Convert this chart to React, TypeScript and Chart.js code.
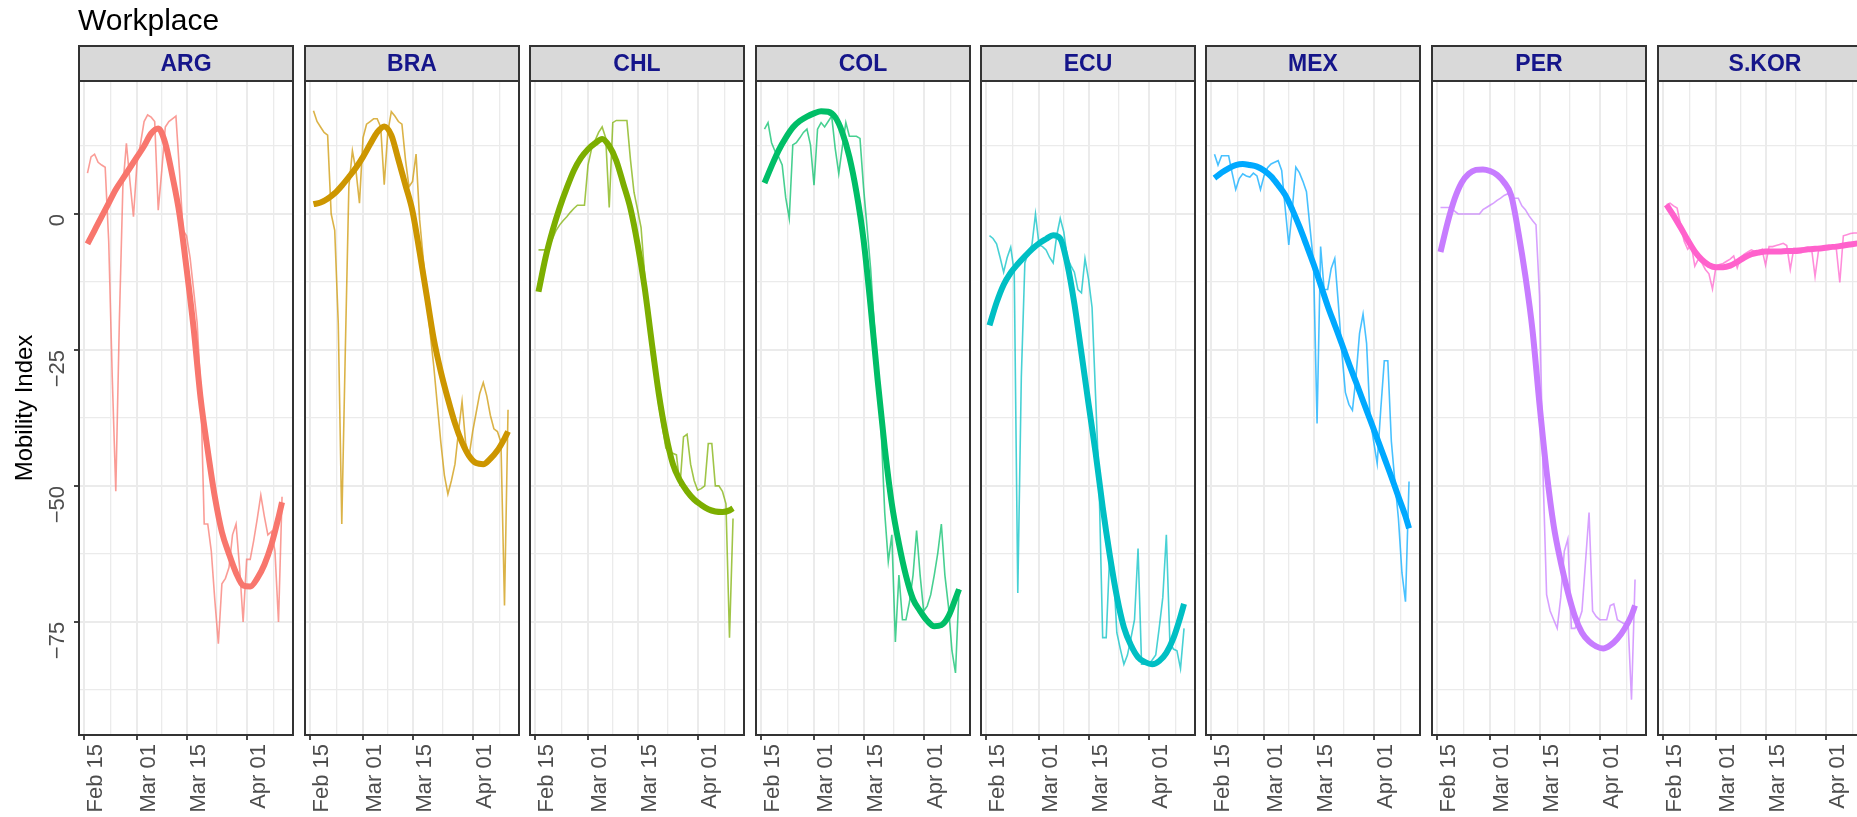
import { useEffect, useRef } from 'react';
import { Chart, registerables } from 'chart.js';

Chart.register(...registerables);
Chart.defaults.font.family = "'Liberation Sans', Arial, sans-serif";

// ---- data -------------------------------------------------------------
// Day offsets from Feb 15 (2020): 1 = Feb 16 ... 56 = Apr 11
const DAYS = Array.from({ length: 56 }, (_, i) => i + 1);
// Days at which the fitted trend is sampled
const FIT_DAYS = [1, 3, 5, 7, 9, 11, 13, 15, 17, 19, 21, 23, 25, 27, 29, 31, 33, 35, 37, 39, 41, 43, 45, 47, 49, 51, 53, 55, 56];

const COUNTRIES = ['ARG', 'BRA', 'CHL', 'COL', 'ECU', 'MEX', 'PER', 'S.KOR'];
const COLORS = ['#F8766D', '#CD9600', '#7CAE00', '#00BE67', '#00BFC4', '#00A9FF', '#C77CFF', '#FF61CC'];

const ARG_RAW = [7.5, 10.5, 11, 9.5, 9, 8.6, -5, -30, -51, -20, 5, 13, 6, -0.5, 9.4, 13, 17, 18.2, 17.8, 17, 0.7, 8, 16, 17, 17.5, 18, 8, -3, -4, -8, -14, -20, -32, -57, -57, -62, -71, -79, -68, -67, -65, -59, -57, -65, -75, -63.5, -63.5, -60, -56, -51.7, -55.6, -59, -58.4, -62, -75, -52];
const BRA_RAW = [19, 17, 16, 15, 14.5, 0, -3, -20, -57, -25, 5, 11.6, 8, 2, 14, 16.5, 17, 17.5, 17.5, 16, 5.4, 15, 18.8, 18, 17, 16.5, 10, 5, 6, 11, -1, -8, -15, -22, -28, -35, -42, -48, -51.5, -49, -46, -40, -34.5, -42, -44.5, -40, -36.5, -33, -31, -33.5, -37, -39.5, -40, -42, -72, -36];
const CHL_RAW = [-6.6, -6.6, -6.6, -6, -4.5, -3, -2, -1.2, -0.5, 0.3, 1, 1.6, 1.6, 1.6, 9, 12, 13.5, 15, 16, 14, 1.2, 16.8, 17.2, 17.2, 17.2, 17.2, 10, 4, 0.8, -2.5, -11, -19, -26, -30, -35, -39, -43, -44, -44, -44.3, -50, -41, -40.5, -46, -49, -50.8, -50.5, -50, -42.2, -42.2, -50, -50, -51, -53.3, -77.9, -56];
const COL_RAW = [15.6, 16.8, 13.1, 11.5, 10.5, 9, 3, -0.8, 12.7, 13.1, 14, 15, 15.6, 12.7, 5.3, 15.6, 16.8, 16, 17, 18, 12, 7.4, 12.3, 16.8, 14.3, 14.3, 14.3, 13.9, 4.9, -2.5, -10, -20, -28.7, -40, -55, -63.9, -59, -78.7, -66.4, -74.6, -74.6, -71.3, -66.4, -58.2, -66.4, -73, -72.1, -70, -66.4, -62.3, -57, -66.4, -72.1, -80.3, -84.4, -69];
const ECU_RAW = [-4, -4.5, -5.5, -8, -10.7, -8, -6.1, -10.7, -69.7, -30, -9, -7, -5.7, 0, -5.7, -6, -6.6, -8, -9, -4, -0.8, -3.3, -8, -9.5, -10.7, -13.9, -14.5, -8.2, -12, -17.2, -33.6, -50, -77.9, -77.9, -62.3, -64.8, -77, -80, -82.8, -81.1, -78, -74.6, -61.5, -82.8, -82.8, -82.8, -82, -81.1, -76, -70.5, -59, -78.7, -80, -80.3, -83.6, -76.2];
const MEX_RAW = [11, 9, 10.7, 10.7, 10.7, 7.5, 4.5, 6.5, 7.4, 7, 6.8, 7.5, 7, 4.5, 7, 8.5, 9.2, 9.5, 9.8, 8, 1, -5.7, 0.8, 8.6, 7.6, 6, 4.1, -2.5, -9, -38.5, -6, -13.9, -13.9, -10, -8.2, -16.4, -25.4, -32.8, -35, -36.1, -30, -22, -18.4, -23.8, -37.7, -41.8, -45.9, -36, -27, -27, -41.8, -49.2, -56, -66, -71.3, -49.2];
const PER_RAW = [1.2, 1.2, 1.2, 1.2, 0.5, 0, 0, 0, 0, 0, 0, 0, 0.8, 1.2, 1.6, 2, 2.5, 2.9, 3.4, 3.7, 2.9, 2.9, 2.9, 1.5, 0.8, -0.3, -1.2, -2, -15, -48, -70, -73, -74.6, -76.2, -70.5, -62, -59.8, -76.2, -76.2, -75, -73, -64, -54.9, -73, -74, -74.6, -74.6, -74.6, -72, -71.7, -74.6, -75, -75.4, -74.6, -89.3, -67.2];
const SKOR_RAW = [1.7, 2, 1.5, 1.1, -2, -5, -6.5, -5.7, -9.6, -8.3, -9, -10.2, -11, -13.8, -9.6, -9.3, -9.1, -8.7, -8.3, -7.7, -9.9, -8, -7.4, -7, -6.6, -6.9, -7.2, -6.5, -9.4, -6, -6, -5.8, -5.6, -5.4, -5.8, -10.2, -6.3, -6.3, -6.3, -6.3, -6.3, -6.3, -11.5, -6.6, -6.2, -6, -6, -6, -6.3, -12.6, -4, -3.8, -3.6, -3.5, -3.5, -4];

const ARG_FIT = [-5.5, -3, -0.5, 2, 4.5, 6.5, 8.5, 10.5, 12.5, 14.8, 15.7, 13, 7, 0, -10, -21, -34, -43.5, -52, -58.5, -62.5, -66, -68.3, -68.5, -67, -64.5, -60.8, -55.8, -53];
const BRA_FIT = [1.8, 2.1, 2.8, 3.8, 5.2, 6.8, 8.5, 10.5, 12.8, 15, 16.1, 14.5, 10, 5.3, 0.5, -7, -15, -23, -29, -34, -38.5, -42, -44.5, -45.8, -46, -45, -43.5, -41.3, -40];
const CHL_FIT = [-14.3, -8, -3, 1.2, 4.8, 8, 10.3, 11.9, 13, 13.8, 12.5, 9.8, 5.5, 1, -5.5, -13.5, -23.5, -33, -40.5, -46, -49, -51, -52.5, -53.5, -54.3, -54.7, -54.8, -54.5, -54.1];
const COL_FIT = [5.7, 8.8, 11.7, 14, 15.9, 17.1, 17.9, 18.5, 18.9, 18.8, 17.8, 15, 10.5, 4, -4.7, -17, -30.6, -43, -53.3, -60.6, -66.5, -70.8, -73, -74.8, -75.8, -75.6, -74, -70.7, -69];
const ECU_FIT = [-20.5, -16.3, -13, -10.8, -9.2, -7.8, -6.5, -5.4, -4.6, -3.9, -4.5, -9.2, -16.5, -25.6, -34.9, -43.9, -53.9, -62.7, -70.3, -76, -79.3, -81.5, -82.4, -82.8, -82.2, -80.7, -78, -74, -71.7];
const MEX_FIT = [6.6, 7.6, 8.4, 9, 9.2, 9, 8.7, 8, 6.9, 5.3, 3.5, 0.8, -2.3, -5.7, -9.2, -13, -16.9, -20.4, -23.9, -27.5, -30.9, -34.4, -37.8, -41.3, -44.8, -48.3, -52, -55.6, -57.8];
const PER_FIT = [-7, -1.6, 2.8, 5.8, 7.4, 8.1, 8.2, 7.9, 7.2, 5.8, 3.4, -3.3, -11.4, -21.3, -35, -47.4, -57.3, -64, -69.5, -74, -77, -78.6, -79.5, -79.9, -79.3, -78.1, -76.3, -73.8, -72];
const SKOR_FIT = [1.7, -0.3, -2.5, -4.8, -6.9, -8.4, -9.4, -9.8, -9.8, -9.5, -8.8, -8, -7.4, -7.1, -6.9, -6.9, -6.9, -6.8, -6.8, -6.7, -6.5, -6.4, -6.3, -6.1, -6, -5.8, -5.6, -5.4, -5.3];

const RAW_SERIES = [ARG_RAW, BRA_RAW, CHL_RAW, COL_RAW, ECU_RAW, MEX_RAW, PER_RAW, SKOR_RAW];
const FIT_SERIES = [ARG_FIT, BRA_FIT, CHL_FIT, COL_FIT, ECU_FIT, MEX_FIT, PER_FIT, SKOR_FIT];

// Axis breaks
const X_TICK_DAYS = [0, 15, 29, 46];
const X_TICK_LABELS = ['Feb 15', 'Mar 01', 'Mar 15', 'Apr 01'];
const X_MINOR_DAYS = [7.5, 22, 37.5, 53.5];
const Y_TICKS = [-75, -50, -25, 0];
const Y_TICK_LABELS = ['\u221275', '\u221250', '\u221225', '0'];
const Y_MINOR = [-87.5, -62.5, -37.5, -12.5, 12.5];

// ---- layout -------------------------------------------------------------
const PAGE_W = 1857;
const PAGE_H = 817;
const PANEL_LEFT = [79, 305, 530, 756, 981, 1206, 1432, 1658];
const PANEL_W = 214;
const STRIP_TOP = 46;
const PANEL_TOP = 81;
const PANEL_BOTTOM = 735;
const SIDE_PAD = 3;
const X_MIN = -1.4;
const X_MAX = 59.1;
const Y_MIN = -95.8;
const Y_MAX = 24.45;

const GRID = '#EBEBEB';
const DARK = '#333333';
const TICK_TEXT = '#4D4D4D';
const STRIP_FILL = '#D9D9D9';
const STRIP_TEXT = '#15158A';
const FONT = "'Liberation Sans', Arial, sans-serif";

// Strip, panel border and plot title drawn around each facet
const facetPlugin = {
  id: 'facet',
  afterDraw(chart: any, _args: any, opts: any) {
    const { ctx, chartArea: a } = chart;
    const w = a.right - a.left;
    ctx.save();
    ctx.fillStyle = STRIP_FILL;
    ctx.fillRect(a.left, STRIP_TOP, w, a.top - STRIP_TOP);
    ctx.lineWidth = 2;
    ctx.strokeStyle = DARK;
    ctx.strokeRect(a.left, STRIP_TOP, w, a.top - STRIP_TOP);
    ctx.strokeRect(a.left, a.top, w, a.bottom - a.top);
    ctx.fillStyle = STRIP_TEXT;
    ctx.font = `bold 23px ${FONT}`;
    ctx.textAlign = 'center';
    ctx.textBaseline = 'middle';
    ctx.fillText(opts.label, a.left + w / 2, (STRIP_TOP + a.top) / 2 + 1);
    if (opts.title) {
      ctx.fillStyle = '#000000';
      ctx.font = `30px ${FONT}`;
      ctx.textAlign = 'left';
      ctx.textBaseline = 'alphabetic';
      ctx.fillText(opts.title, 78, 30);
    }
    ctx.restore();
  },
};

function buildConfig(index: number): any {
  const color = COLORS[index];
  const raw = RAW_SERIES[index];
  const fit = FIT_SERIES[index];
  const first = index === 0;
  const xMajor = (v: number) => X_TICK_DAYS.includes(v);
  const yMajor = (v: number) => Y_TICKS.includes(v);
  return {
    type: 'line',
    data: {
      datasets: [
        {
          label: 'trend',
          data: FIT_DAYS.map((d, i) => ({ x: d, y: fit[i] })),
          borderColor: color,
          borderWidth: 6,
          pointRadius: 0,
          cubicInterpolationMode: 'monotone',
          order: 0,
        },
        {
          label: 'daily',
          data: DAYS.map((d, i) => ({ x: d, y: raw[i] })),
          borderColor: color + 'B8',
          borderWidth: 1.6,
          pointRadius: 0,
          tension: 0,
          order: 1,
        },
      ],
    },
    options: {
      animation: false,
      responsive: false,
      devicePixelRatio: 1,
      events: [],
      layout: { padding: { top: PANEL_TOP, bottom: 0, left: first ? 0 : SIDE_PAD, right: SIDE_PAD } },
      plugins: {
        legend: { display: false },
        tooltip: { enabled: false },
        facet: { label: COUNTRIES[index], title: first ? 'Workplace' : '' },
      },
      scales: {
        x: {
          type: 'linear',
          min: X_MIN,
          max: X_MAX,
          afterBuildTicks: (s: any) => {
            s.ticks = [...X_TICK_DAYS, ...X_MINOR_DAYS].sort((a, b) => a - b).map((v) => ({ value: v }));
          },
          afterFit: (s: any) => {
            s.height = PAGE_H - PANEL_BOTTOM;
            s.paddingLeft = 0;
            s.paddingRight = 0;
          },
          ticks: {
            autoSkip: false,
            minRotation: 90,
            maxRotation: 90,
            padding: 4,
            labelOffset: 12,
            color: TICK_TEXT,
            font: { size: 22 },
            callback: (v: number) => {
              const k = X_TICK_DAYS.indexOf(v);
              return k >= 0 ? X_TICK_LABELS[k] : '';
            },
          },
          grid: {
            color: GRID,
            lineWidth: (c: any) => (xMajor(c.tick?.value) ? 2 : 1.3),
            drawTicks: true,
            tickLength: 5,
            tickWidth: 1.8,
            tickColor: (c: any) => (xMajor(c.tick?.value) ? DARK : 'rgba(0,0,0,0)'),
          },
          border: { display: false },
        },
        y: {
          type: 'linear',
          min: Y_MIN,
          max: Y_MAX,
          afterBuildTicks: (s: any) => {
            s.ticks = [...Y_TICKS, ...Y_MINOR].sort((a, b) => a - b).map((v) => ({ value: v }));
          },
          afterFit: (s: any) => {
            s.width = first ? PANEL_LEFT[0] : 0;
            s.paddingTop = 0;
            s.paddingBottom = 0;
          },
          title: {
            display: first,
            text: 'Mobility Index',
            color: '#000000',
            font: { size: 24 },
            padding: { top: 11, bottom: 0 },
          },
          ticks: {
            display: first,
            autoSkip: false,
            minRotation: 90,
            maxRotation: 90,
            padding: 16,
            color: TICK_TEXT,
            font: { size: 22 },
            callback: (v: number) => {
              const k = Y_TICKS.indexOf(v);
              return k >= 0 ? Y_TICK_LABELS[k] : '';
            },
          },
          grid: {
            color: GRID,
            lineWidth: (c: any) => (yMajor(c.tick?.value) ? 2 : 1.3),
            drawTicks: first,
            tickLength: 5,
            tickWidth: 1.8,
            tickColor: (c: any) => (yMajor(c.tick?.value) ? DARK : 'rgba(0,0,0,0)'),
          },
          border: { display: false },
        },
      },
    },
    plugins: [facetPlugin],
  };
}

function FacetPanel({ index }: { index: number }) {
  const ref = useRef<HTMLCanvasElement | null>(null);
  useEffect(() => {
    if (!ref.current) return;
    const chart = new Chart(ref.current, buildConfig(index));
    return () => chart.destroy();
  }, [index]);
  const left = index === 0 ? 0 : PANEL_LEFT[index] - SIDE_PAD;
  const width = index === 0 ? PANEL_LEFT[0] + PANEL_W + SIDE_PAD : PANEL_W + 2 * SIDE_PAD;
  return (
    <canvas
      ref={ref}
      width={width}
      height={PAGE_H}
      style={{ position: 'absolute', left, top: 0, width, height: PAGE_H }}
    />
  );
}

export default function App() {
  return (
    <div
      style={{
        position: 'fixed',
        left: 0,
        top: 0,
        width: PAGE_W,
        height: PAGE_H,
        overflow: 'hidden',
        background: '#ffffff',
      }}
    >
      {COUNTRIES.map((c, i) => (
        <FacetPanel key={c} index={i} />
      ))}
    </div>
  );
}
